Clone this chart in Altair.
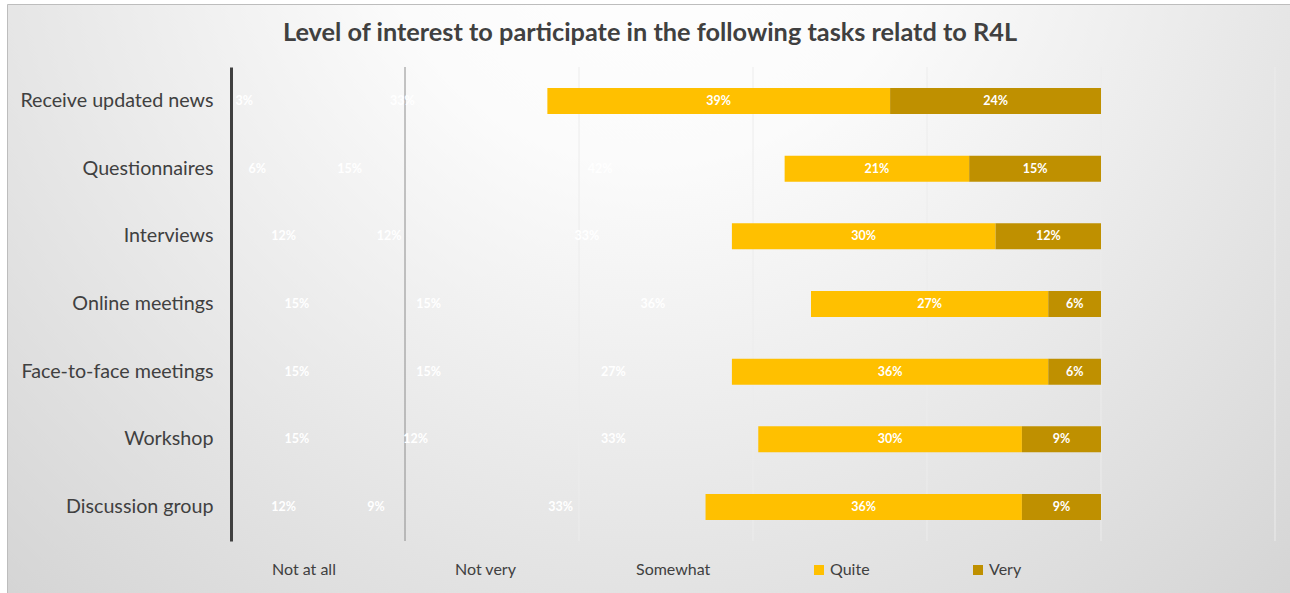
import altair as alt
import pandas as pd

tasks = ["Receive updated news", "Questionnaires", "Interviews", "Online meetings",
         "Face-to-face meetings", "Workshop", "Discussion group"]
levels = ["Not at all", "Not very", "Somewhat", "Quite", "Very"]
not_at_all = [3, 6, 12, 15, 15, 15, 12]
not_very = [33, 15, 12, 15, 15, 12, 9]
somewhat = [0, 42, 33, 36, 27, 33, 33]
quite = [39, 21, 30, 27, 36, 30, 36]
very = [24, 15, 12, 6, 6, 9, 9]
grid_ticks = [0.2, 0.4, 0.6, 0.8, 1.0, 1.2]

series = [not_at_all, not_very, somewhat, quite, very]
rows = []
for li, (lvl, vals) in enumerate(zip(levels, series)):
    for t, v in zip(tasks, vals):
        rows.append({"task": t, "level": lvl, "rank": li, "value": v,
                     "label": f"{v}%"})
df = pd.DataFrame(rows)

W, H = 1044, 474
PL, PT, PR, PB = 231, 67, 15, 52
FONT = "Lato"

xscale = alt.Scale(domain=[0, 1.2], nice=False)

bg = alt.Chart(pd.DataFrame({"a": [0]})).mark_rect(
    color=alt.Gradient(
        gradient="radial",
        x1=0.5, y1=0.18, r1=0.0,
        x2=0.5, y2=0.18, r2=0.85,
        stops=[alt.GradientStop(offset=0, color="#ffffff"),
               alt.GradientStop(offset=0.25, color="#fbfbfb"),
               alt.GradientStop(offset=1, color="#cdcdcd")],
    ),
    stroke="#bdbdbd", strokeWidth=1,
).encode(
    x=alt.value(-PL + 7.5), x2=alt.value(W + PR + 2),
    y=alt.value(-PT + 4.5), y2=alt.value(H + PB + 2),
)

grid = alt.Chart(pd.DataFrame({"v": grid_ticks})).mark_rule(strokeWidth=1).encode(
    x=alt.X("v:Q", scale=xscale, axis=None),
    y=alt.value(0), y2=alt.value(H),
    color=alt.condition("datum.v == 0.2", alt.value("#8c8c8c"), alt.value("#ececec")),
)

base = alt.Chart(df).transform_stack(
    stack="value", groupby=["task"], as_=["x0", "x1"],
    sort=[alt.SortField("rank", order="ascending")], offset="normalize",
).transform_calculate(mid="(datum.x0 + datum.x1) / 2")

yenc = alt.Y("task:N", sort=tasks, title=None,
             scale=alt.Scale(paddingInner=0.615, paddingOuter=0.31),
             axis=alt.Axis(labelFont=FONT, labelFontSize=19.7, labelColor="#404040",
                           labelPadding=18, ticks=False, domainColor="#404040",
                           domainWidth=3, grid=False, zindex=1, labelLimit=300))

bars = base.mark_bar(size=26).encode(
    x=alt.X("x0:Q", scale=xscale, title=None, axis=None),
    x2="x1:Q",
    y=yenc,
    color=alt.Color("level:N", scale=alt.Scale(domain=levels,
                    range=["transparent", "transparent", "transparent", "#FFC000", "#BF9000"]),
                    legend=alt.Legend(orient="none", legendX=22, legendY=495,
                                      direction="horizontal", title=None,
                                      symbolType="square", symbolSize=100,
                                      symbolStrokeWidth=0, labelFont=FONT,
                                      labelFontSize=16, labelColor="#404040",
                                      labelOffset=3, columnPadding=100, zindex=1)),
)

labels = base.transform_filter("datum.value > 0").mark_text(
    color="white", font=FONT, fontWeight="bold", fontSize=12.5, baseline="middle"
).encode(
    x=alt.X("mid:Q", scale=xscale, axis=None),
    y=alt.Y("task:N", sort=tasks),
    text="label:N",
)

chart = alt.layer(bg, grid, bars, labels).properties(
    width=W, height=H,
    title=alt.TitleParams("Level of interest to participate in the following tasks relatd to R4L",
                          font=FONT, fontSize=25.3, fontWeight="bold", color="#404040",
                          anchor="middle", frame="group", baseline="alphabetic",
                          offset=-62, dx=-103, zindex=1),
    autosize=alt.AutoSizeParams(type="none"),
    padding={"left": PL, "top": PT, "right": PR, "bottom": PB},
).configure_view(stroke=None).configure(background="white")

chart.save("out.html", embed_options={"renderer": "svg", "actions": False})
